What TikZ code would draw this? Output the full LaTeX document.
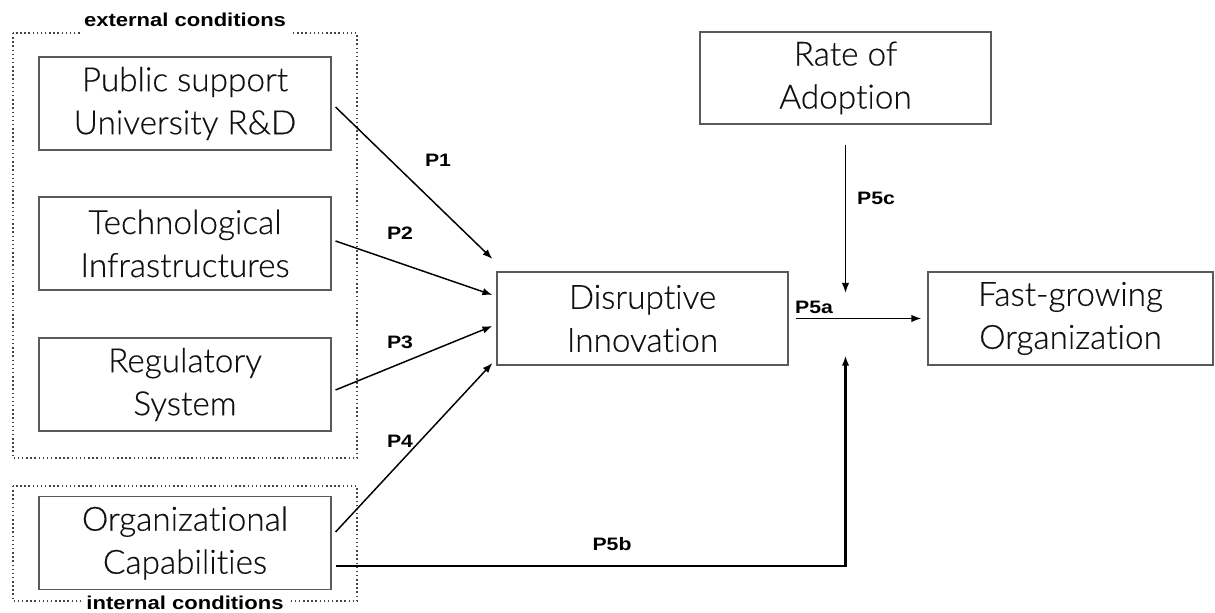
\documentclass[tikz,border=0pt]{standalone}
\usepackage{fontspec}
\IfFontExistsTF{Lato Light}{\setmainfont{Lato Light}[Ligatures=CommonOff,FakeBold=0.4]}{\setmainfont{Lato}[Ligatures=CommonOff]}
\newfontfamily\labfont{Liberation Sans}[FakeStretch=1.18]
\usetikzlibrary{arrows.meta,calc}
\definecolor{boxgray}{HTML}{5A5A5A}
\definecolor{txt}{HTML}{111111}
\definecolor{dotgray}{HTML}{444444}
\begin{document}
\begin{tikzpicture}[x=0.75pt,y=-0.75pt,
  box/.style={draw=boxgray, line width=0.8pt, text=txt, align=center,
    inner sep=0pt, font=\fontsize{25}{32.25}\selectfont},
  lbox/.style={box, minimum width=219pt, minimum height=69.75pt},
  plab/.style={font=\labfont\bfseries\fontsize{13.5}{16}\selectfont, inner sep=1pt},
  clab/.style={font=\labfont\bfseries\fontsize{14}{17}\selectfont, fill=white, inner xsep=3pt},
  group/.style={draw=dotgray, line width=1.1pt, dash pattern=on 1.1pt off 2pt},
  arr/.style={line width=1.1pt, -{Latex[length=7.5pt,width=5.5pt]}},
  thick line/.style={line width=1.6pt}
]
\useasboundingbox (0,0) rectangle (1215,613);

% group frames
\draw[group] (13,33) rectangle (357,458);
\draw[group] (13,486) rectangle (357,601);
\node[clab, inner ysep=6pt] (ext) at (185,20) {external conditions};
\node[clab, inner ysep=4pt] (int) at (185,603) {internal conditions};

% boxes
\node[lbox] (b1) at (185,103.5) {Public support\\University R\&D};
\node[lbox] (b2) at (185,243.5) {Technological\\Infrastructures};
\node[lbox] (b3) at (185,384.5) {Regulatory\\System};
\node[lbox] (b4) at (185,543) {Organizational\\Capabilities};
\node[box, minimum width=218.25pt, minimum height=69.75pt] (dis) at (642.5,318.5) {Disruptive\\Innovation};
\node[box, minimum width=213.75pt, minimum height=69.75pt] (fast) at (1070.5,318.5) {Fast-growing\\Organization};
\node[box, minimum width=218.25pt, minimum height=69pt] (rate) at (845.5,78) {Rate of\\Adoption};

% coordinates for free ends
\coordinate (p5cs) at ($(rate.south)+(0,20)$);
\coordinate (p5ce) at ($(rate.south |- fast.west)+(0,-25.5)$);
\coordinate (corner) at ($(rate.south |- b4.east)+(0,23)$);
\coordinate (p5be) at ($(rate.south |- dis.south)+(0,-10)$);

% connectors
\draw[arr] ($(b1.east)+(4,3.5)$) -- ($(dis.west)+(-4,-59.5)$);
\draw[arr] ($(b2.east)+(4,-2.5)$) -- ($(dis.west)+(-4,-23.5)$);
\draw[arr] ($(b3.east)+(4,5.5)$) -- ($(dis.west)+(-4,7.5)$);
\draw[arr] ($(b4.east)+(4,-11)$) -- ($(dis.west)+(-4,44.5)$);
\draw[arr] ($(dis.east)+(7,0)$) -- ($(fast.west)+(-6,0)$);
\draw[arr] (p5cs) -- (p5ce);
\draw[arr, thick line] ($(b4.east)+(4,23)$) -- (corner) -- (p5be);

% labels
\node[plab] (l1) at (438,160) {P1};
\node[plab] (l2) at (400,233) {P2};
\node[plab] (l3) at (400,342) {P3};
\node[plab] (l4) at (400,441) {P4};
\node[plab] (l5a) at (814,307) {P5a};
\node[plab] (l5b) at (612,544) {P5b};
\node[plab] (l5c) at (876,198) {P5c};
\end{tikzpicture}
\end{document}
